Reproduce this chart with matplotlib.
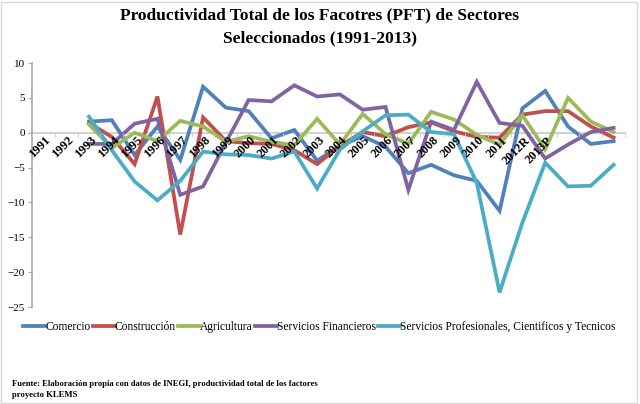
import matplotlib
matplotlib.use("Agg")
from matplotlib import pyplot as plt
from matplotlib.patches import Rectangle

plt.rcParams['font.family'] = ['Liberation Serif', 'DejaVu Serif']

# category labels (last three points carry no label in the source chart)
years = ["1991", "1992", "1993", "1994", "1995", "1996", "1997", "1998", "1999",
         "2000", "2001", "2002", "2003", "2004", "2005", "2006", "2007", "2008",
         "2009", "2010", "2011", "2012R", "2013P", "", "", ""]

# series start at the third category
first = 2

comercio = [1.6, 1.8, -3.2, 0.9, -3.9, 6.6, 3.6, 3.1, -0.8, 0.4, -4.0, -1.9,
            -0.5, -2.0, -5.8, -4.6, -6.1, -6.9, -11.2, 3.5, 6.0, 0.9, -1.6, -1.2]
construccion = [1.4, -0.6, -4.5, 5.2, -14.6, 2.2, -1.2, -1.5, -1.6, -2.5, -4.5, -1.9,
                0.1, -0.5, 0.8, 1.5, 0.2, -0.6, -0.7, 2.6, 3.1, 3.1, 0.9, -0.7]
agricultura = [1.2, -2.2, 0.0, -1.2, 1.7, 0.9, -1.3, -0.5, -1.3, -1.8, 2.0, -1.7,
               2.7, -0.2, -1.6, 3.0, 1.9, -0.3, -1.7, 2.5, -2.4, 5.0, 1.6, 0.1]
financieros = [-1.6, -1.6, 1.3, 2.0, -8.9, -7.7, -1.4, 4.7, 4.5, 6.8, 5.2, 5.5,
               3.3, 3.7, -8.2, 1.6, 0.4, 7.3, 1.4, 1.0, -3.7, -1.7, 0.1, 0.7]
profesionales = [2.3, -2.5, -7.0, -9.7, -6.9, -2.7, -3.1, -3.2, -3.7, -2.7, -8.0, -2.4,
                 0.2, 2.5, 2.6, 0.1, -0.2, -7.2, -22.9, -12.9, -4.3, -7.7, -7.6, -4.6]

series = [
    ("Comercio", comercio, "#4F81BD"),
    ("Construcción", construccion, "#C0504D"),
    ("Agricultura", agricultura, "#9BBB59"),
    ("Servicios Financieros", financieros, "#8064A2"),
    ("Servicios Profesionales, Cientificos y Tecnicos", profesionales, "#4BACC6"),
]

fig = plt.figure(figsize=(6.4, 4.04), dpi=100)
ax = fig.add_axes([0.05, 0.24, 0.9266, 0.604])

for name, vals, color in series:
    xs = list(range(first, first + len(vals)))
    ax.plot(xs, vals, color=color, lw=2.7, label=name, solid_joinstyle='miter')

ax.set_axisbelow(False)  # year labels sit on top of the lines
ax.set_xlim(-0.5, len(years) - 0.5)
ax.set_ylim(-25, 10)
ax.set_yticks(range(-25, 11, 5))
ax.tick_params(axis='y', labelsize=8, length=3, color='#A6A6A6', pad=2)

ax.spines['top'].set_visible(False)
ax.spines['right'].set_visible(False)
ax.spines['left'].set_color('#A6A6A6')
ax.spines['bottom'].set_color('#C8C8C8')
ax.spines['bottom'].set_position(('data', 0))
ax.spines['bottom'].set_zorder(1)
ax.spines['left'].set_linewidth(1.2)
ax.spines['bottom'].set_linewidth(1.2)

ax.set_xticks(range(len(years)))
ax.set_xticklabels(years, rotation=45, ha='right', va='top', rotation_mode='anchor',
                   fontsize=9, fontweight='bold')
ax.set_xticks([i - 0.5 for i in range(len(years) + 1)], minor=True)
ax.tick_params(axis='x', which='major', length=0, pad=1)
ax.tick_params(axis='x', which='minor', length=3, color='#C8C8C8', direction='out')
shift = matplotlib.transforms.ScaledTranslation(1 / 72, 0, fig.dpi_scale_trans)
for lbl in ax.get_xticklabels():
    lbl.set_transform(lbl.get_transform() + shift)

fig.suptitle("Productividad Total de los Facotres (PFT) de Sectores\nSeleccionados (1991-2013)",
             x=0.5, y=0.982, fontsize=12.5, fontweight='bold', linespacing=1.6)

ax.legend(loc='upper center', bbox_to_anchor=(0.485, -0.04), ncol=5, frameon=False,
          fontsize=8.3, handlelength=1.9, handletextpad=0.0, columnspacing=0.2,
          borderaxespad=0)

fig.text(0.019, 0.012, "Fuente: Elaboración propia con datos de INEGI, productividad total de los factores\nproyecto KLEMS",
         fontsize=6.2, fontweight='bold', ha='left', va='bottom', linespacing=1.5)

fig.patches.append(Rectangle((0.002, 0.002), 0.994, 0.994, transform=fig.transFigure,
                             fill=False, edgecolor='#D9D9D9', lw=1))

fig.savefig("out.png", dpi=100)
